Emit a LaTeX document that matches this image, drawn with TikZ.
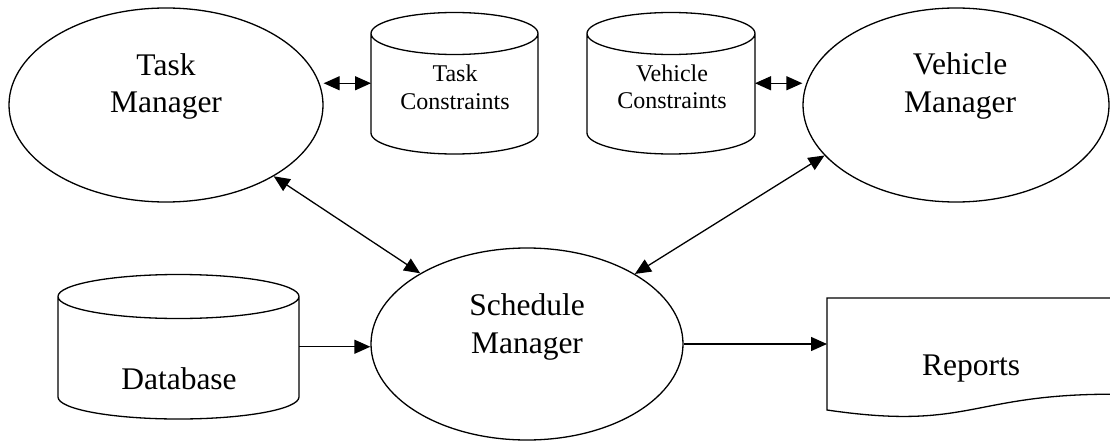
\documentclass[tikz,border=0pt]{standalone}
\usepackage{fontspec}
\setmainfont{Liberation Serif}
\usetikzlibrary{arrows.meta,shapes.geometric}
\begin{document}
\begin{tikzpicture}[x=1pt,y=-1pt,line width=1.3pt,
  ell/.style={draw,ellipse,inner sep=0pt},
  box/.style={inner sep=0pt,outer sep=0pt},
  big/.style={font=\fontsize{31.5}{37.5}\selectfont,anchor=base,inner sep=0pt},
  small/.style={font=\fontsize{24}{28}\selectfont,anchor=base,inner sep=0pt},
  tip/.tip={Triangle[length=16pt,width=14pt]},
  arr/.style={-tip},
  dbl/.style={tip-tip}]
\useasboundingbox (0,0) rectangle (1110,441);
% ellipses
\node[ell,minimum width=314pt,minimum height=194pt] (tm) at (166,105) {};
\node[ell,minimum width=306pt,minimum height=194pt] (vm) at (956,105) {};
\node[ell,minimum width=312pt,minimum height=192pt] (sm) at (527,344) {};
\node[big] (tm1) at (166,76) {Task};
\node[big] (tm2) at (166,113) {Manager};
\node[big] (vm1) at (960,75) {Vehicle};
\node[big] (vm2) at (960,113) {Manager};
\node[big] (sm1) at (527,315) {Schedule};
\node[big] (sm2) at (527,353) {Manager};
% cylinders
\node[box,minimum width=167pt,minimum height=99.5pt] (tc) at (454.5,83.25) {};
\draw (tc.north west) -- (tc.south west)
  arc[start angle=180,end angle=360,x radius=83.5pt,y radius=21pt] -- (tc.north east)
  arc[start angle=0,end angle=360,x radius=83.5pt,y radius=21pt];
\node[small] (tc1) at (455,82) {Task};
\node[small] (tc2) at (455,110) {Constraints};
\node[box,minimum width=168pt,minimum height=99.5pt] (vc) at (671,83.25) {};
\draw (vc.north west) -- (vc.south west)
  arc[start angle=180,end angle=360,x radius=84pt,y radius=21pt] -- (vc.north east)
  arc[start angle=0,end angle=360,x radius=84pt,y radius=21pt];
\node[small] (vc1) at (672,82) {Vehicle};
\node[small] (vc2) at (672,109) {Constraints};
\node[box,minimum width=241pt,minimum height=100.5pt] (db) at (178.5,346.75) {};
\draw (db.north west) -- (db.south west)
  arc[start angle=180,end angle=360,x radius=120.5pt,y radius=22pt] -- (db.north east)
  arc[start angle=0,end angle=360,x radius=120.5pt,y radius=22pt];
\node[big] (db1) at (179,389) {Database};
% reports document
\draw (1112,298) -- (827,298) -- (827,410)
  .. controls (969.5,430.9) and (969.5,394.2) .. (1112,394.2);
\node[box,minimum width=285pt,minimum height=112pt] (rp) at (969.5,354) {};
\node[big] (rp1) at (971,375) {Reports};
% connectors
\draw[dbl] (tc.west -| tm.east) -- (tc.west);
\draw[dbl] (vc.east) -- (vc.east -| vm.west);
\draw[dbl] (tm) -- (sm);
\draw[dbl] (vm.201) -- (sm.33);
\draw[arr] (db.east) -- (db.east -| sm.west);
\draw[arr] (sm.east) -- (sm.east -| rp.west);
\end{tikzpicture}
\end{document}
